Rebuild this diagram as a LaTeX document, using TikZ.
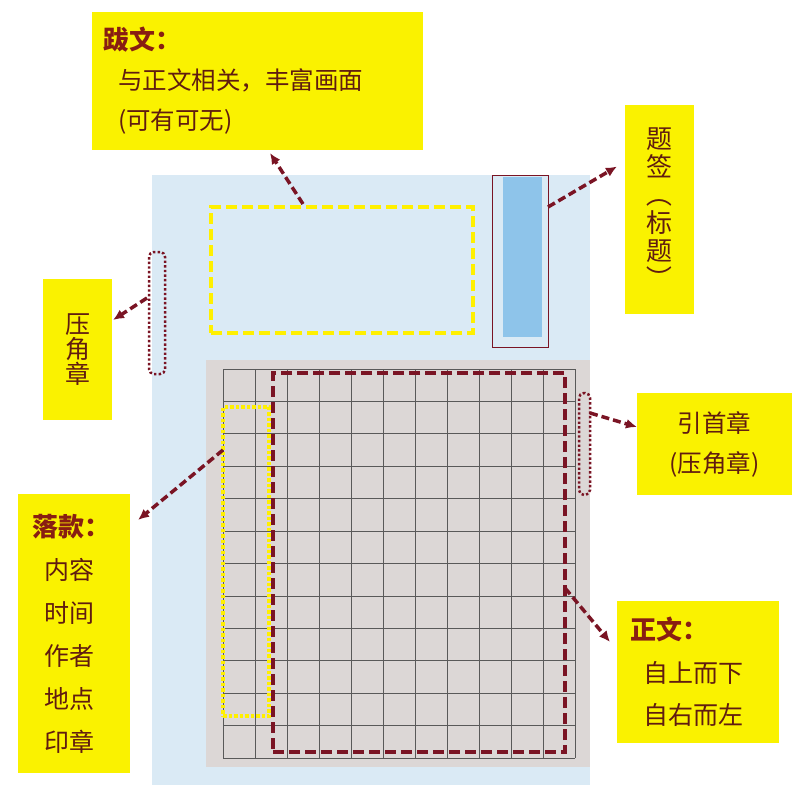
\documentclass[tikz,border=0pt]{standalone}
\usepackage{fontspec}
\setmainfont{Noto Sans CJK SC}
\usepackage{graphicx}
\usepackage{tikz}
\usetikzlibrary{arrows.meta}
\definecolor{paperblue}{RGB}{218,234,245}
\definecolor{papergray}{RGB}{220,215,214}
\definecolor{titleblue}{RGB}{142,196,234}
\definecolor{noteyellow}{RGB}{250,242,0}
\definecolor{markyellow}{RGB}{255,240,0}
\definecolor{arrowred}{RGB}{122,20,36}
\definecolor{notetext}{RGB}{96,28,16}
\definecolor{headred}{RGB}{136,30,18}
\newcommand{\notehead}[1]{{\fontsize{26}{40}\selectfont\bfseries\color{headred}#1}}
\newcommand{\vparen}[1]{\rotatebox[origin=c]{-90}{#1}}

\begin{document}
\begin{tikzpicture}[
    x=1pt, y=-1pt,
    >={Latex[length=11pt,width=10pt]},
    note/.style={fill=noteyellow, text=notetext, inner sep=0pt, outer sep=0pt, anchor=north west,
                 font={\fontsize{24.5}{40}\selectfont}},
    area/.style={inner sep=0pt, outer sep=0pt, anchor=north west},
    dashedmark/.style={area, line width=3.5pt, dash pattern=on 11pt off 5pt},
    stamp/.style={area, draw=arrowred, line width=2.5pt, dash pattern=on 2.4pt off 2.2pt, rounded corners=5pt},
    gridline/.style={draw=black!65, line width=0.7pt},
    pointer/.style={->, draw=arrowred, line width=3.5pt, dash pattern=on 8pt off 4pt}]

    \useasboundingbox[fill=white] (0,0) rectangle (807,800);

    % paper and grid
    \fill[paperblue] (152,175) rectangle (590,785);
    \fill[papergray] (206,360) rectangle (590,767);
    \foreach \i in {0,...,11}
        \draw[gridline] (223+32*\i,369) -- (223+32*\i,758);
    \foreach \j in {0,...,12}
        \draw[gridline] (223,369+32.42*\j) -- (575,369+32.42*\j);
    \fill[titleblue] (503,177) rectangle (542,337);

    % marked areas
    \node[dashedmark, draw=markyellow, minimum width=262pt, minimum height=126pt] (baarea) at (211,207) {};
    \node[area, draw=arrowred, line width=1pt, minimum width=56pt, minimum height=172pt] (titlebox) at (492,175) {};
    \node[stamp, minimum width=16pt, minimum height=122pt] (leftstamp) at (149,252) {};
    \node[stamp, minimum width=11pt, minimum height=102pt] (rightstamp) at (579,393) {};
    \node[area, draw=markyellow, line width=4pt, dash pattern=on 3.5pt off 2pt,
          minimum width=46pt, minimum height=309pt] (lkarea) at (223,407) {};
    \node[dashedmark, draw=arrowred, minimum width=292pt, minimum height=379pt] (zwarea) at (273,373) {};

    % labels
    \node[note, minimum width=331pt, minimum height=138pt, text width=309pt, inner xsep=11pt, align=left]
        (balabel) at (92,12) {\notehead{跋文：}\\\hspace*{15pt}与正文相关，丰富画面\\\hspace*{15pt}(可有可无)};
    \node[note, minimum width=69pt, minimum height=209pt, align=center, font={\fontsize{26}{28}\selectfont}]
        (titlelabel) at (625,105) {题\\签\\\vparen{（}\\标\\题\\\vparen{）}};
    \node[note, minimum width=69pt, minimum height=141pt, align=center, font={\fontsize{25}{25}\selectfont}]
        (yajiaolabel) at (43,279) {压\\角\\章};
    \node[note, minimum width=155pt, minimum height=102pt, align=center]
        (yinshoulabel) at (637,393) {引首章\\(压角章)};
    \node[note, minimum width=112pt, minimum height=279pt, text width=84pt, inner xsep=14pt, align=left,
          font={\fontsize{25}{43}\selectfont}]
        (lklabel) at (18,494) {\notehead{落款：}\\\hspace*{13pt}内容\\\hspace*{13pt}时间\\\hspace*{13pt}作者\\\hspace*{13pt}地点\\\hspace*{13pt}印章};
    \node[note, minimum width=162pt, minimum height=142pt, text width=136pt, inner xsep=13pt, align=left,
          font={\fontsize{25}{42.5}\selectfont}]
        (zwlabel) at (617,601) {\notehead{正文：}\\\hspace*{13pt}自上而下\\\hspace*{13pt}自右而左};

    % pointers
    \draw[pointer] ([xshift=-39pt,yshift=3pt]baarea.north) -- ([xshift=12.5pt,yshift=-3pt]balabel.south);
    \draw[pointer] ([yshift=54pt]titlebox.east) -- ([xshift=-8pt,yshift=43pt]titlelabel.west);
    \draw[pointer] ([xshift=-2pt,yshift=15pt]leftstamp.west) -- ([xshift=1pt,yshift=29.5pt]yajiaolabel.east);
    \draw[pointer] ([yshift=31pt]rightstamp.east) -- ([yshift=17pt]yinshoulabel.west);
    \draw[pointer] ([yshift=111.5pt]lkarea.west) -- ([xshift=8pt,yshift=113.5pt]lklabel.east);
    \draw[pointer] ([yshift=-25.5pt]zwarea.east) -- ([xshift=-7pt,yshift=30pt]zwlabel.west);

\end{tikzpicture}
\end{document}
